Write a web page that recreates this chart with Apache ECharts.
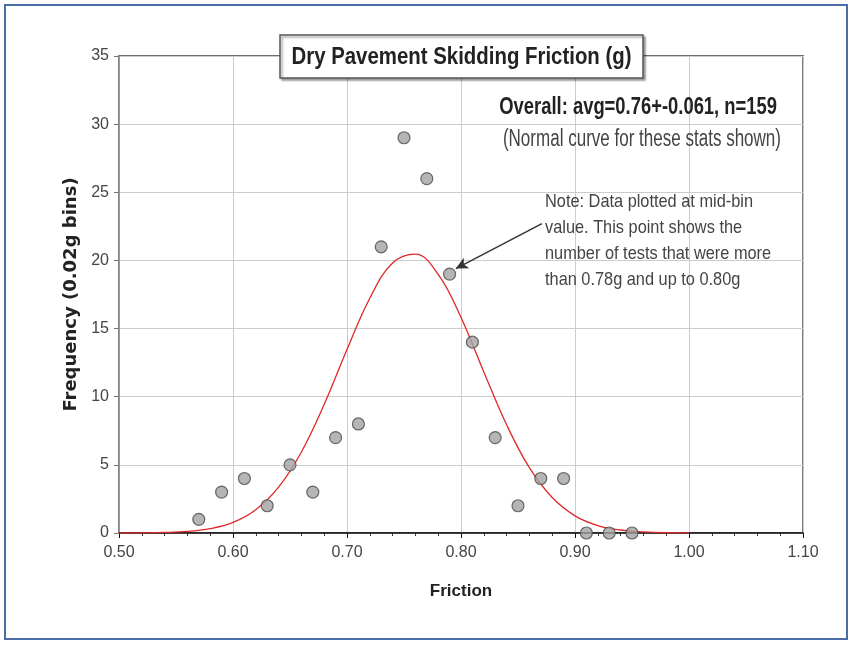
<!DOCTYPE html>
<html>
<head>
<meta charset="utf-8">
<script src="https://cdn.jsdelivr.net/npm/echarts@6/dist/echarts.min.js"></script>
<style>
  html, body { margin: 0; padding: 0; background: #ffffff; }
  #chart { width: 853px; height: 645px; }
</style>
</head>
<body>
<div id="chart"></div>
<script>
// Mid-bin friction values (0.02g bins) and test counts per bin
const binMids = [0.57, 0.59, 0.61, 0.63, 0.65, 0.67, 0.69, 0.71, 0.73, 0.75,
                 0.77, 0.79, 0.81, 0.83, 0.85, 0.87, 0.89, 0.91, 0.93, 0.95];
const binCounts = [1, 3, 4, 2, 5, 3, 7, 8, 21, 29,
                   26, 19, 14, 7, 2, 4, 4, 0, 0, 0];

// Normal curve for the overall stats, sampled every 0.02g
const curveX = [0.50, 0.52, 0.54, 0.56, 0.58, 0.60, 0.62, 0.64, 0.66, 0.68,
                0.70, 0.72, 0.74, 0.76, 0.78, 0.80, 0.82, 0.84, 0.86, 0.88,
                0.90, 0.92, 0.94, 0.96, 0.98, 1.00];
const curveY = [0.00, 0.01, 0.04, 0.12, 0.32, 0.78, 1.71, 3.36, 5.94, 9.44,
                13.46, 17.23, 19.81, 20.46, 18.97, 15.81, 11.82, 7.94, 4.79, 2.60,
                1.26, 0.55, 0.22, 0.08, 0.02, 0.01];

// Axis tick labels
const xTicks = ['0.50', '0.60', '0.70', '0.80', '0.90', '1.00', '1.10'];
const yTicks = ['0', '5', '10', '15', '20', '25', '30', '35'];

const titleText = 'Dry Pavement Skidding Friction (g)';
const statsText = 'Overall: avg=0.76+-0.061, n=159';
const curveNote = '(Normal curve for these stats shown)';
const binNote = [
  'Note: Data plotted at mid-bin',
  'value. This point shows the',
  'number of tests that were more',
  'than 0.78g and up to 0.80g'
];

const sans = '"Liberation Sans", Arial, sans-serif';

const chart = echarts.init(document.getElementById('chart'), null, { renderer: 'canvas' });

const option = {
  backgroundColor: '#ffffff',
  animation: false,
  grid: {
    left: 119,
    right: 50,
    top: 56,
    bottom: 112,
    show: true,
    backgroundColor: '#ffffff',
    borderColor: '#6e6e6e',
    borderWidth: 1.8,
    z: 0
  },
  xAxis: {
    type: 'value',
    min: 0.5,
    max: 1.1,
    interval: 0.1,
    name: 'Friction',
    nameLocation: 'middle',
    nameGap: 50,
    nameTextStyle: {
      fontFamily: sans,
      fontSize: 17,
      fontWeight: 'bold',
      color: '#222222'
    },
    axisLine: { show: true, onZero: false, lineStyle: { color: '#111111', width: 1.5 } },
    axisTick: { show: true, inside: false, length: 5, lineStyle: { color: '#111111' } },
    minorTick: { show: true, splitNumber: 5, length: 3, lineStyle: { color: '#333333' } },
    splitLine: { show: true, lineStyle: { color: '#cccccc', width: 1 } },
    axisLabel: {
      margin: 12,
      fontFamily: sans,
      fontSize: 16,
      color: '#444444',
      formatter: function (v) {
        const s = v.toFixed(2);
        return xTicks.indexOf(s) >= 0 ? s : '';
      }
    }
  },
  yAxis: {
    type: 'value',
    min: 0,
    max: 35,
    interval: 5,
    name: 'Frequency (0.02g bins)',
    nameLocation: 'middle',
    nameGap: 38,
    nameRotate: 90,
    nameTextStyle: {
      fontFamily: '"DejaVu Sans", sans-serif',
      fontSize: 18,
      fontWeight: 'bold',
      color: '#222222'
    },
    axisLine: { show: true, lineStyle: { color: '#888888', width: 1.5 } },
    axisTick: { show: true, inside: false, length: 5, lineStyle: { color: '#777777' } },
    splitLine: { show: true, lineStyle: { color: '#cccccc', width: 1 } },
    axisLabel: {
      margin: 10,
      fontFamily: sans,
      fontSize: 16,
      color: '#444444',
      formatter: function (v) {
        const s = String(v);
        return yTicks.indexOf(s) >= 0 ? s : '';
      }
    }
  },
  series: [
    {
      name: 'Normal curve',
      type: 'line',
      data: curveX.map((x, i) => [x, curveY[i]]),
      smooth: 0.4,
      showSymbol: false,
      symbol: 'none',
      lineStyle: { color: '#e02828', width: 1.3 },
      z: 2
    },
    {
      name: 'Tests per bin',
      type: 'scatter',
      data: binMids.map((x, i) => [x, binCounts[i]]),
      symbol: 'circle',
      symbolSize: 12,
      itemStyle: { color: '#a3a3a3', borderColor: '#4a4a4a', borderWidth: 1.2 },
      z: 3,
      markLine: {
        silent: true,
        symbol: ['none', 'arrow'],
        symbolSize: [9, 12],
        label: { show: false },
        lineStyle: { color: '#333333', width: 1.5, type: 'solid' },
        data: [[{ coord: [0.871, 22.7] }, { coord: [0.7955, 19.4] }]]
      }
    }
  ],
  graphic: [
    // page frame
    {
      type: 'rect',
      shape: { x: 5, y: 5, width: 842, height: 634 },
      style: { fill: 'none', stroke: '#4a6ea6', lineWidth: 2 },
      silent: true
    },
    // boxed chart title
    {
      type: 'rect',
      shape: { x: 280, y: 35, width: 363, height: 43 },
      style: {
        fill: '#ffffff',
        stroke: '#555555',
        lineWidth: 1.5,
        shadowColor: 'rgba(0,0,0,0.35)',
        shadowBlur: 2,
        shadowOffsetX: 2,
        shadowOffsetY: 2
      },
      z: 10
    },
    {
      type: 'text',
      x: 461.5,
      y: 57,
      scaleX: 0.85,
      z: 11,
      style: {
        text: titleText,
        fontFamily: sans,
        fontSize: 24,
        fontWeight: 'bold',
        fill: '#222222',
        align: 'center',
        verticalAlign: 'middle'
      }
    },
    {
      type: 'text',
      x: 777,
      y: 108,
      scaleX: 0.8,
      z: 11,
      style: {
        text: statsText,
        fontFamily: sans,
        fontSize: 23,
        fontWeight: 'bold',
        fill: '#222222',
        align: 'right',
        verticalAlign: 'middle'
      }
    },
    {
      type: 'text',
      x: 781,
      y: 140,
      scaleX: 0.74,
      z: 11,
      style: {
        text: curveNote,
        fontFamily: sans,
        fontSize: 23,
        fill: '#444444',
        align: 'right',
        verticalAlign: 'middle'
      }
    },
    {
      type: 'text',
      x: 545,
      y: 189,
      scaleX: 0.86,
      z: 11,
      style: {
        text: binNote.join('\n'),
        fontFamily: sans,
        fontSize: 19,
        lineHeight: 26,
        fill: '#444444',
        align: 'left',
        verticalAlign: 'top'
      }
    }
  ]
};

chart.setOption(option);
</script>
</body>
</html>
